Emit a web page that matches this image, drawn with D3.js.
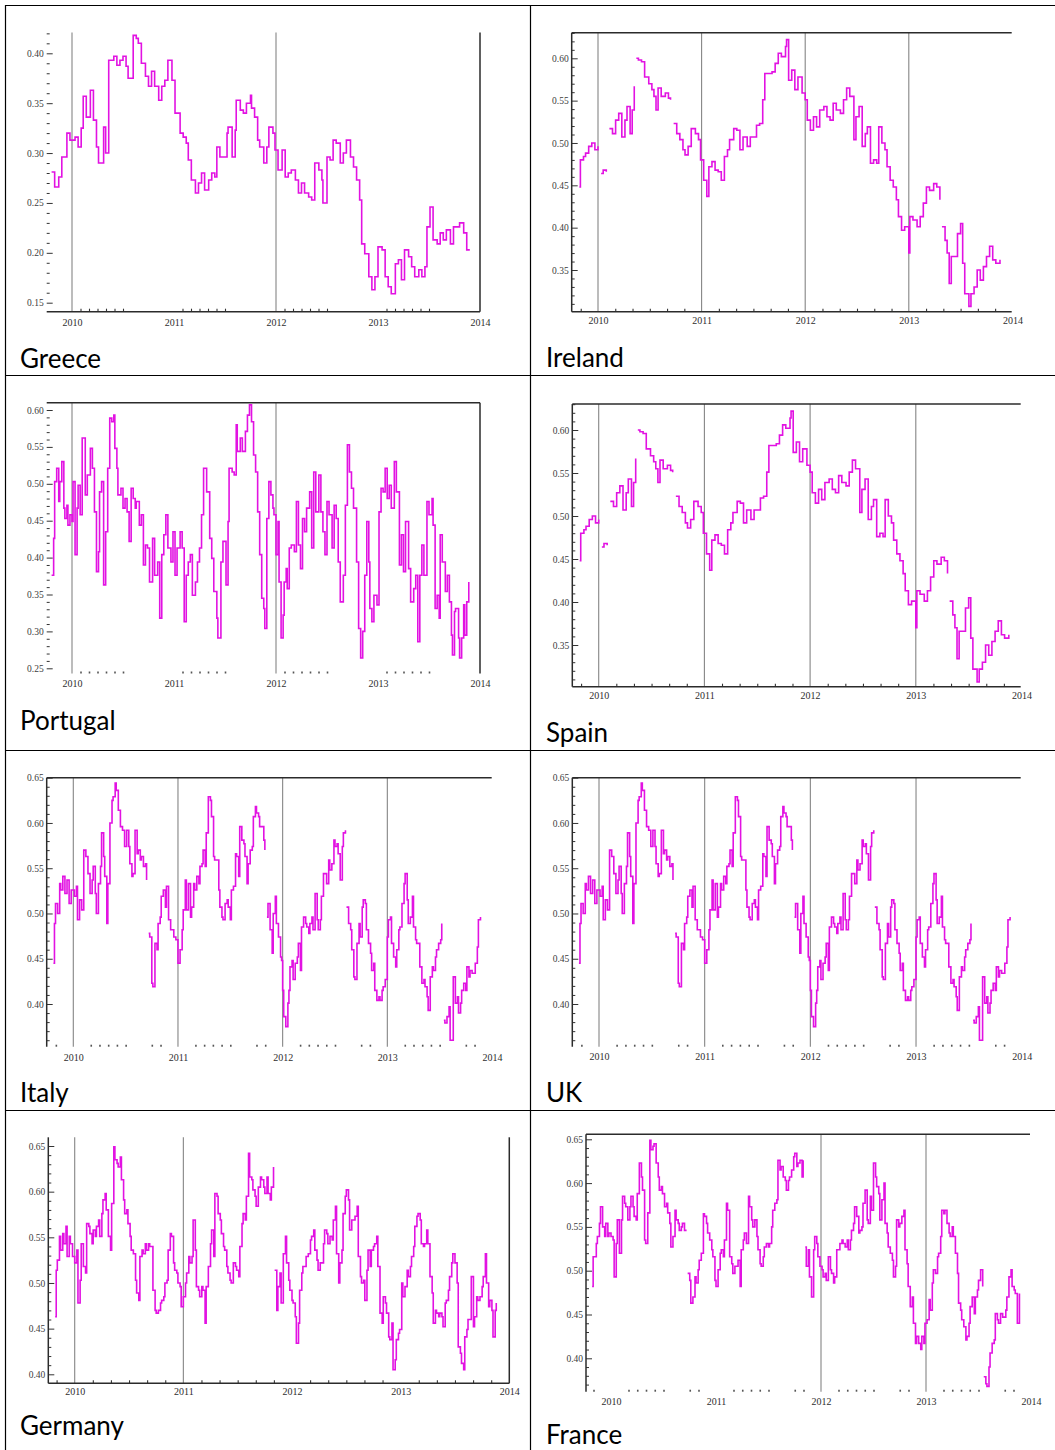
<!DOCTYPE html>
<html>
<head>
<meta charset="utf-8">
<script src="https://d3js.org/d3.v7.min.js"></script>
<style>
  body { margin: 0; background: #fff; }
  svg { display: block; }
  .yax text { font-family: "Liberation Serif", "DejaVu Serif", serif; font-size: 9.5px; fill: #3c3c3c; }
  .xax text { font-family: "Liberation Serif", "DejaVu Serif", serif; font-size: 10px; fill: #2e2e2e; }
  .name { font-family: Lato, "Open Sans", sans-serif; font-size: 26px; fill: #000; }
</style>
</head>
<body>
<svg id="page" width="1055" height="1450"></svg>
<script>
// panel titles and shared ticks
const countries = ["Greece", "Ireland", "Portugal", "Spain", "Italy", "UK", "Germany", "France"];
const yearTicks = [2010, 2011, 2012, 2013, 2014];

const greeceTicks = [0.15, 0.20, 0.25, 0.30, 0.35, 0.40];
const irelandTicks = [0.35, 0.40, 0.45, 0.50, 0.55, 0.60];
const portugalTicks = [0.25, 0.30, 0.35, 0.40, 0.45, 0.50, 0.55, 0.60];
const spainTicks = [0.35, 0.40, 0.45, 0.50, 0.55, 0.60];
const italyTicks = [0.40, 0.45, 0.50, 0.55, 0.60, 0.65];
const ukTicks = [0.40, 0.45, 0.50, 0.55, 0.60, 0.65];
const germanyTicks = [0.40, 0.45, 0.50, 0.55, 0.60, 0.65];
const franceTicks = [0.40, 0.45, 0.50, 0.55, 0.60, 0.65];

// series (decimal year, value; null = break in the line)
const greeceDates = [2009.80,2009.83,2009.87,2009.90,2009.95,2009.98,2010.03,2010.06,2010.09,2010.11,2010.14,2010.18,2010.21,2010.24,2010.26,2010.31,2010.33,2010.36,2010.41,2010.44,2010.47,2010.50,2010.53,2010.55,2010.60,2010.63,2010.65,2010.68,2010.72,2010.75,2010.78,2010.81,2010.85,2010.88,2010.91,2010.94,2010.98,2011.01,2011.06,2011.09,2011.12,2011.14,2011.17,2011.21,2011.24,2011.27,2011.30,2011.34,2011.37,2011.40,2011.42,2011.45,2011.48,2011.52,2011.53,2011.57,2011.60,2011.61,2011.65,2011.68,2011.71,2011.75,2011.76,2011.79,2011.82,2011.84,2011.88,2011.91,2011.93,2011.97,2011.99,2012.02,2012.06,2012.09,2012.12,2012.15,2012.19,2012.22,2012.25,2012.28,2012.32,2012.35,2012.38,2012.42,2012.45,2012.46,2012.50,2012.53,2012.56,2012.59,2012.63,2012.66,2012.69,2012.73,2012.76,2012.79,2012.82,2012.84,2012.87,2012.91,2012.94,2012.97,2013.00,2013.04,2013.07,2013.10,2013.13,2013.17,2013.20,2013.23,2013.26,2013.30,2013.33,2013.36,2013.40,2013.43,2013.46,2013.48,2013.51,2013.54,2013.58,2013.61,2013.64,2013.67,2013.71,2013.74,2013.77,2013.80,2013.84,2013.87,2013.90];
const greeceRates = [0.281,0.266,0.276,0.296,0.320,0.313,0.316,0.306,0.325,0.357,0.336,0.363,0.333,0.306,0.290,0.326,0.300,0.393,0.397,0.388,0.393,0.397,0.387,0.375,0.418,0.415,0.410,0.390,0.377,0.367,0.382,0.367,0.353,0.367,0.373,0.393,0.373,0.340,0.320,0.316,0.310,0.293,0.273,0.260,0.270,0.280,0.263,0.273,0.280,0.276,0.306,0.296,0.296,0.320,0.326,0.296,0.323,0.353,0.343,0.340,0.350,0.358,0.345,0.336,0.313,0.306,0.290,0.306,0.326,0.320,0.303,0.283,0.303,0.276,0.280,0.283,0.273,0.260,0.270,0.260,0.256,0.253,0.290,0.283,0.273,0.250,0.296,0.293,0.313,0.310,0.290,0.300,0.313,0.296,0.286,0.273,0.253,0.209,0.199,0.176,0.163,0.176,0.206,0.203,0.176,0.166,0.159,0.189,0.193,0.173,0.203,0.196,0.186,0.176,0.183,0.176,0.186,0.226,0.246,0.213,0.209,0.220,0.213,0.223,0.209,0.226,0.226,0.230,0.220,0.203,0.203];

const irelandDates = [2009.82,2009.83,2009.86,2009.88,2009.91,2009.94,2009.97,2010.00,2010.015,2010.03,2010.05,2010.08,2010.095,2010.11,2010.14,2010.17,2010.20,2010.23,2010.26,2010.28,2010.31,2010.33,2010.35,2010.36,2010.37,2010.39,2010.42,2010.45,2010.49,2010.52,2010.54,2010.56,2010.58,2010.61,2010.65,2010.68,2010.70,2010.715,2010.73,2010.76,2010.79,2010.82,2010.84,2010.87,2010.90,2010.94,2010.97,2010.99,2011.02,2011.05,2011.07,2011.10,2011.13,2011.16,2011.19,2011.22,2011.25,2011.27,2011.31,2011.34,2011.37,2011.40,2011.44,2011.47,2011.50,2011.53,2011.56,2011.59,2011.61,2011.64,2011.68,2011.71,2011.74,2011.77,2011.81,2011.82,2011.84,2011.87,2011.90,2011.93,2011.97,2012.00,2012.02,2012.05,2012.08,2012.11,2012.14,2012.18,2012.21,2012.24,2012.27,2012.30,2012.34,2012.37,2012.40,2012.43,2012.47,2012.49,2012.52,2012.55,2012.58,2012.60,2012.63,2012.66,2012.69,2012.71,2012.74,2012.77,2012.79,2012.82,2012.85,2012.88,2012.90,2012.93,2012.96,2013.00,2013.01,2013.04,2013.08,2013.11,2013.14,2013.17,2013.20,2013.24,2013.27,2013.30,2013.31,2013.32,2013.35,2013.37,2013.39,2013.41,2013.45,2013.47,2013.50,2013.52,2013.54,2013.58,2013.60,2013.63,2013.66,2013.69,2013.72,2013.75,2013.78,2013.81,2013.84,2013.88];
const irelandRates = [0.448,0.480,0.484,0.488,0.496,0.500,0.492,0.496,null,0.464,0.468,0.466,null,0.517,0.511,0.527,0.535,0.507,0.527,0.543,0.511,0.539,0.567,null,0.600,0.598,0.596,0.578,0.570,0.563,0.555,0.539,0.565,0.555,0.559,0.553,0.551,null,0.523,0.511,0.504,0.492,0.486,0.496,0.517,0.511,0.504,0.480,0.456,0.437,0.472,0.478,0.468,0.466,0.456,0.484,0.492,0.504,0.517,0.515,0.492,0.507,0.496,0.507,0.507,0.521,0.523,0.551,0.582,0.582,0.584,0.594,0.606,0.602,0.614,0.622,0.574,0.586,0.563,0.578,0.559,0.551,0.527,0.515,0.531,0.519,0.539,0.543,0.531,0.527,0.547,0.539,0.535,0.551,0.565,0.555,0.504,0.531,0.543,0.496,0.511,0.519,0.476,0.480,0.476,0.519,0.500,0.492,0.472,0.456,0.448,0.433,0.413,0.397,0.401,0.370,0.413,0.409,0.401,0.413,0.429,0.448,0.444,0.452,0.448,0.433,null,0.401,0.385,0.370,0.334,0.366,0.366,0.393,0.405,0.358,0.322,0.307,0.322,0.330,0.350,0.338,0.354,0.366,0.378,0.362,0.358,0.362];

const portugalDates = [2009.80,2009.82,2009.83,2009.85,2009.87,2009.88,2009.90,2009.92,2009.93,2009.95,2009.96,2009.98,2010.00,2010.01,2010.03,2010.05,2010.06,2010.08,2010.10,2010.13,2010.15,2010.18,2010.20,2010.22,2010.24,2010.26,2010.27,2010.29,2010.31,2010.33,2010.35,2010.37,2010.39,2010.41,2010.42,2010.44,2010.45,2010.48,2010.50,2010.52,2010.54,2010.56,2010.58,2010.60,2010.62,2010.63,2010.66,2010.68,2010.70,2010.72,2010.74,2010.76,2010.79,2010.81,2010.84,2010.86,2010.88,2010.90,2010.92,2010.94,2010.97,2010.99,2011.01,2011.03,2011.06,2011.08,2011.10,2011.12,2011.14,2011.16,2011.18,2011.21,2011.23,2011.25,2011.27,2011.29,2011.32,2011.35,2011.37,2011.39,2011.42,2011.43,2011.46,2011.48,2011.51,2011.53,2011.54,2011.57,2011.59,2011.61,2011.62,2011.65,2011.67,2011.70,2011.72,2011.74,2011.76,2011.78,2011.80,2011.82,2011.84,2011.86,2011.88,2011.89,2011.91,2011.93,2011.95,2011.97,2011.98,2012.00,2012.02,2012.03,2012.05,2012.07,2012.08,2012.10,2012.11,2012.13,2012.15,2012.18,2012.20,2012.22,2012.24,2012.26,2012.28,2012.30,2012.33,2012.35,2012.37,2012.39,2012.42,2012.44,2012.46,2012.48,2012.50,2012.52,2012.55,2012.57,2012.59,2012.61,2012.63,2012.66,2012.68,2012.70,2012.72,2012.74,2012.76,2012.79,2012.81,2012.83,2012.85,2012.87,2012.89,2012.91,2012.92,2012.94,2012.96,2012.99,2013.01,2013.03,2013.05,2013.07,2013.09,2013.11,2013.13,2013.16,2013.18,2013.21,2013.23,2013.25,2013.27,2013.30,2013.32,2013.35,2013.37,2013.39,2013.41,2013.43,2013.45,2013.48,2013.50,2013.53,2013.54,2013.56,2013.58,2013.60,2013.61,2013.63,2013.66,2013.68,2013.70,2013.72,2013.73,2013.75,2013.76,2013.79,2013.80,2013.82,2013.84,2013.85,2013.87,2013.89];
const portugalRates = [0.376,0.426,0.503,0.521,0.476,0.503,0.530,0.467,0.453,0.471,0.444,0.458,0.449,0.503,0.404,0.467,0.498,0.458,0.562,0.485,0.512,0.548,0.521,0.462,0.381,0.408,0.489,0.503,0.363,0.435,0.521,0.589,0.584,0.593,0.548,0.521,0.485,0.494,0.467,0.480,0.462,0.422,0.494,0.480,0.467,0.476,0.444,0.458,0.390,0.417,0.413,0.367,0.426,0.376,0.394,0.318,0.404,0.431,0.458,0.413,0.394,0.435,0.376,0.413,0.435,0.413,0.313,0.376,0.394,0.404,0.349,0.367,0.394,0.413,0.458,0.521,0.489,0.426,0.399,0.354,0.318,0.291,0.394,0.422,0.363,0.449,0.521,0.516,0.512,0.580,0.544,0.562,0.544,0.571,0.593,0.607,0.584,0.539,0.516,0.462,0.404,0.345,0.331,0.304,0.453,0.503,0.485,0.467,0.458,0.404,0.449,0.367,0.291,0.322,0.367,0.385,0.358,0.413,0.417,0.408,0.476,0.417,0.385,0.453,0.435,0.467,0.489,0.413,0.516,0.462,0.512,0.462,0.435,0.404,0.476,0.458,0.413,0.471,0.453,0.394,0.340,0.376,0.471,0.553,0.516,0.494,0.467,0.394,0.304,0.264,0.300,0.376,0.449,0.394,0.331,0.313,0.349,0.336,0.462,0.494,0.489,0.521,0.480,0.498,0.467,0.530,0.489,0.390,0.431,0.381,0.449,0.385,0.340,0.358,0.376,0.286,0.376,0.417,0.376,0.476,0.458,0.480,0.444,0.331,0.349,0.318,0.431,0.394,0.354,0.376,0.340,0.295,0.268,0.327,0.331,0.291,0.264,0.291,0.336,0.295,0.340,0.367];

// the Spain panel shows the same series as Ireland
const spainDates = [2009.82,2009.83,2009.86,2009.88,2009.91,2009.94,2009.97,2010.00,2010.015,2010.03,2010.05,2010.08,2010.095,2010.11,2010.14,2010.17,2010.20,2010.23,2010.26,2010.28,2010.31,2010.33,2010.35,2010.36,2010.37,2010.39,2010.42,2010.45,2010.49,2010.52,2010.54,2010.56,2010.58,2010.61,2010.65,2010.68,2010.70,2010.715,2010.73,2010.76,2010.79,2010.82,2010.84,2010.87,2010.90,2010.94,2010.97,2010.99,2011.02,2011.05,2011.07,2011.10,2011.13,2011.16,2011.19,2011.22,2011.25,2011.27,2011.31,2011.34,2011.37,2011.40,2011.44,2011.47,2011.50,2011.53,2011.56,2011.59,2011.61,2011.64,2011.68,2011.71,2011.74,2011.77,2011.81,2011.82,2011.84,2011.87,2011.90,2011.93,2011.97,2012.00,2012.02,2012.05,2012.08,2012.11,2012.14,2012.18,2012.21,2012.24,2012.27,2012.30,2012.34,2012.37,2012.40,2012.43,2012.47,2012.49,2012.52,2012.55,2012.58,2012.60,2012.63,2012.66,2012.69,2012.71,2012.74,2012.77,2012.79,2012.82,2012.85,2012.88,2012.90,2012.93,2012.96,2013.00,2013.01,2013.04,2013.08,2013.11,2013.14,2013.17,2013.20,2013.24,2013.27,2013.30,2013.31,2013.32,2013.35,2013.37,2013.39,2013.41,2013.45,2013.47,2013.50,2013.52,2013.54,2013.58,2013.60,2013.63,2013.66,2013.69,2013.72,2013.75,2013.78,2013.81,2013.84,2013.88];
const spainRates = [0.448,0.480,0.484,0.488,0.496,0.500,0.492,0.496,null,0.464,0.468,0.466,null,0.517,0.511,0.527,0.535,0.507,0.527,0.543,0.511,0.539,0.567,null,0.600,0.598,0.596,0.578,0.570,0.563,0.555,0.539,0.565,0.555,0.559,0.553,0.551,null,0.523,0.511,0.504,0.492,0.486,0.496,0.517,0.511,0.504,0.480,0.456,0.437,0.472,0.478,0.468,0.466,0.456,0.484,0.492,0.504,0.517,0.515,0.492,0.507,0.496,0.507,0.507,0.521,0.523,0.551,0.582,0.582,0.584,0.594,0.606,0.602,0.614,0.622,0.574,0.586,0.563,0.578,0.559,0.551,0.527,0.515,0.531,0.519,0.539,0.543,0.531,0.527,0.547,0.539,0.535,0.551,0.565,0.555,0.504,0.531,0.543,0.496,0.511,0.519,0.476,0.480,0.476,0.519,0.500,0.492,0.472,0.456,0.448,0.433,0.413,0.397,0.401,0.370,0.413,0.409,0.401,0.413,0.429,0.448,0.444,0.452,0.448,0.433,null,0.401,0.385,0.370,0.334,0.366,0.366,0.393,0.405,0.358,0.322,0.307,0.322,0.330,0.350,0.338,0.354,0.366,0.378,0.362,0.358,0.362];

const italyDates = [2009.81,2009.82,2009.83,2009.85,2009.87,2009.88,2009.90,2009.92,2009.94,2009.96,2009.98,2010.01,2010.03,2010.04,2010.06,2010.08,2010.10,2010.12,2010.14,2010.16,2010.18,2010.19,2010.21,2010.22,2010.24,2010.26,2010.27,2010.29,2010.30,2010.32,2010.33,2010.35,2010.37,2010.38,2010.40,2010.41,2010.43,2010.45,2010.47,2010.49,2010.51,2010.53,2010.54,2010.56,2010.57,2010.59,2010.61,2010.62,2010.64,2010.65,2010.67,2010.69,2010.70,2010.71,2010.72,2010.73,2010.75,2010.76,2010.78,2010.80,2010.81,2010.83,2010.84,2010.86,2010.88,2010.89,2010.91,2010.93,2010.96,2010.98,2011.00,2011.02,2011.04,2011.05,2011.07,2011.08,2011.10,2011.12,2011.13,2011.15,2011.16,2011.18,2011.20,2011.21,2011.23,2011.24,2011.26,2011.27,2011.29,2011.31,2011.32,2011.34,2011.35,2011.37,2011.39,2011.40,2011.42,2011.43,2011.45,2011.47,2011.48,2011.50,2011.51,2011.53,2011.55,2011.56,2011.58,2011.59,2011.61,2011.63,2011.64,2011.66,2011.67,2011.69,2011.71,2011.72,2011.74,2011.75,2011.77,2011.78,2011.80,2011.82,2011.83,2011.84,2011.85,2011.86,2011.88,2011.90,2011.91,2011.93,2011.94,2011.96,2011.98,2011.99,2012.00,2012.01,2012.03,2012.05,2012.06,2012.07,2012.09,2012.10,2012.12,2012.14,2012.15,2012.17,2012.18,2012.20,2012.22,2012.23,2012.25,2012.26,2012.28,2012.29,2012.31,2012.33,2012.34,2012.36,2012.37,2012.39,2012.41,2012.42,2012.44,2012.45,2012.47,2012.49,2012.50,2012.52,2012.53,2012.55,2012.57,2012.58,2012.60,2012.605,2012.61,2012.63,2012.65,2012.66,2012.68,2012.69,2012.71,2012.73,2012.74,2012.76,2012.77,2012.79,2012.80,2012.82,2012.84,2012.85,2012.87,2012.88,2012.90,2012.92,2012.93,2012.95,2012.96,2012.98,2013.00,2013.01,2013.03,2013.04,2013.06,2013.08,2013.09,2013.11,2013.12,2013.14,2013.16,2013.17,2013.19,2013.20,2013.22,2013.24,2013.25,2013.27,2013.28,2013.30,2013.31,2013.33,2013.35,2013.36,2013.38,2013.39,2013.41,2013.43,2013.44,2013.46,2013.47,2013.49,2013.51,2013.52,2013.53,2013.54,2013.55,2013.57,2013.59,2013.60,2013.62,2013.63,2013.65,2013.67,2013.68,2013.70,2013.71,2013.73,2013.75,2013.76,2013.78,2013.79,2013.81,2013.82,2013.84,2013.86,2013.87,2013.89];
const italyRates = [0.445,0.489,0.511,0.500,0.533,0.526,0.541,0.522,0.537,0.511,0.526,0.519,0.530,0.493,0.515,0.504,0.570,0.563,0.544,0.522,0.537,0.552,0.522,0.500,0.533,0.552,0.589,0.563,0.541,0.489,0.533,0.600,0.625,0.629,0.644,0.636,0.614,0.596,0.592,0.574,0.592,0.574,0.555,0.541,0.544,0.592,0.566,0.570,0.559,0.563,0.552,0.555,0.537,null,0.478,0.474,0.423,0.419,0.467,0.460,0.489,0.496,0.519,0.526,0.507,0.530,0.493,0.482,0.474,0.471,0.445,0.460,0.482,0.504,0.537,0.504,0.533,0.496,0.507,0.533,0.526,0.541,0.533,0.552,0.555,0.570,0.552,0.589,0.629,0.625,0.607,0.563,0.559,0.559,0.526,0.507,0.496,0.493,0.511,0.515,0.507,0.493,0.526,0.530,0.566,0.563,0.541,0.596,0.581,0.577,0.563,0.533,0.555,0.570,0.574,0.607,0.618,0.611,0.607,0.596,0.596,0.581,0.570,null,0.496,0.511,0.482,0.456,0.500,0.519,0.489,0.474,0.452,0.448,0.415,0.386,0.375,0.401,0.415,0.441,0.448,0.427,0.445,0.452,0.467,0.437,0.485,0.496,0.489,0.485,0.478,0.489,0.496,0.482,0.522,0.493,0.482,0.493,0.519,0.544,0.544,0.533,0.559,0.548,0.555,0.581,0.574,0.577,0.566,0.537,0.574,0.589,0.592,null,0.507,0.489,0.482,0.460,0.430,0.427,0.467,0.489,0.474,0.507,0.515,0.511,0.482,0.467,0.456,0.437,0.445,0.415,0.404,0.408,0.404,0.415,0.419,0.427,0.474,0.493,0.496,0.467,0.452,0.441,0.460,0.482,0.485,0.511,0.533,0.544,0.515,0.489,0.496,0.519,0.485,0.471,0.467,0.467,0.441,0.423,0.427,0.419,0.408,0.393,0.430,0.441,0.437,0.452,0.460,0.467,0.471,0.489,null,0.382,0.379,0.386,0.397,0.360,0.360,0.430,0.401,0.408,0.390,0.401,0.415,0.423,0.415,0.441,0.430,0.437,0.434,0.434,0.445,0.463,0.493,0.496];

// the UK panel shows the same series as Italy
const ukDates = [2009.81,2009.82,2009.83,2009.85,2009.87,2009.88,2009.90,2009.92,2009.94,2009.96,2009.98,2010.01,2010.03,2010.04,2010.06,2010.08,2010.10,2010.12,2010.14,2010.16,2010.18,2010.19,2010.21,2010.22,2010.24,2010.26,2010.27,2010.29,2010.30,2010.32,2010.33,2010.35,2010.37,2010.38,2010.40,2010.41,2010.43,2010.45,2010.47,2010.49,2010.51,2010.53,2010.54,2010.56,2010.57,2010.59,2010.61,2010.62,2010.64,2010.65,2010.67,2010.69,2010.70,2010.71,2010.72,2010.73,2010.75,2010.76,2010.78,2010.80,2010.81,2010.83,2010.84,2010.86,2010.88,2010.89,2010.91,2010.93,2010.96,2010.98,2011.00,2011.02,2011.04,2011.05,2011.07,2011.08,2011.10,2011.12,2011.13,2011.15,2011.16,2011.18,2011.20,2011.21,2011.23,2011.24,2011.26,2011.27,2011.29,2011.31,2011.32,2011.34,2011.35,2011.37,2011.39,2011.40,2011.42,2011.43,2011.45,2011.47,2011.48,2011.50,2011.51,2011.53,2011.55,2011.56,2011.58,2011.59,2011.61,2011.63,2011.64,2011.66,2011.67,2011.69,2011.71,2011.72,2011.74,2011.75,2011.77,2011.78,2011.80,2011.82,2011.83,2011.84,2011.85,2011.86,2011.88,2011.90,2011.91,2011.93,2011.94,2011.96,2011.98,2011.99,2012.00,2012.01,2012.03,2012.05,2012.06,2012.07,2012.09,2012.10,2012.12,2012.14,2012.15,2012.17,2012.18,2012.20,2012.22,2012.23,2012.25,2012.26,2012.28,2012.29,2012.31,2012.33,2012.34,2012.36,2012.37,2012.39,2012.41,2012.42,2012.44,2012.45,2012.47,2012.49,2012.50,2012.52,2012.53,2012.55,2012.57,2012.58,2012.60,2012.605,2012.61,2012.63,2012.65,2012.66,2012.68,2012.69,2012.71,2012.73,2012.74,2012.76,2012.77,2012.79,2012.80,2012.82,2012.84,2012.85,2012.87,2012.88,2012.90,2012.92,2012.93,2012.95,2012.96,2012.98,2013.00,2013.01,2013.03,2013.04,2013.06,2013.08,2013.09,2013.11,2013.12,2013.14,2013.16,2013.17,2013.19,2013.20,2013.22,2013.24,2013.25,2013.27,2013.28,2013.30,2013.31,2013.33,2013.35,2013.36,2013.38,2013.39,2013.41,2013.43,2013.44,2013.46,2013.47,2013.49,2013.51,2013.52,2013.53,2013.54,2013.55,2013.57,2013.59,2013.60,2013.62,2013.63,2013.65,2013.67,2013.68,2013.70,2013.71,2013.73,2013.75,2013.76,2013.78,2013.79,2013.81,2013.82,2013.84,2013.86,2013.87,2013.89];
const ukRates = [0.445,0.489,0.511,0.500,0.533,0.526,0.541,0.522,0.537,0.511,0.526,0.519,0.530,0.493,0.515,0.504,0.570,0.563,0.544,0.522,0.537,0.552,0.522,0.500,0.533,0.552,0.589,0.563,0.541,0.489,0.533,0.600,0.625,0.629,0.644,0.636,0.614,0.596,0.592,0.574,0.592,0.574,0.555,0.541,0.544,0.592,0.566,0.570,0.559,0.563,0.552,0.555,0.537,null,0.478,0.474,0.423,0.419,0.467,0.460,0.489,0.496,0.519,0.526,0.507,0.530,0.493,0.482,0.474,0.471,0.445,0.460,0.482,0.504,0.537,0.504,0.533,0.496,0.507,0.533,0.526,0.541,0.533,0.552,0.555,0.570,0.552,0.589,0.629,0.625,0.607,0.563,0.559,0.559,0.526,0.507,0.496,0.493,0.511,0.515,0.507,0.493,0.526,0.530,0.566,0.563,0.541,0.596,0.581,0.577,0.563,0.533,0.555,0.570,0.574,0.607,0.618,0.611,0.607,0.596,0.596,0.581,0.570,null,0.496,0.511,0.482,0.456,0.500,0.519,0.489,0.474,0.452,0.448,0.415,0.386,0.375,0.401,0.415,0.441,0.448,0.427,0.445,0.452,0.467,0.437,0.485,0.496,0.489,0.485,0.478,0.489,0.496,0.482,0.522,0.493,0.482,0.493,0.519,0.544,0.544,0.533,0.559,0.548,0.555,0.581,0.574,0.577,0.566,0.537,0.574,0.589,0.592,null,0.507,0.489,0.482,0.460,0.430,0.427,0.467,0.489,0.474,0.507,0.515,0.511,0.482,0.467,0.456,0.437,0.445,0.415,0.404,0.408,0.404,0.415,0.419,0.427,0.474,0.493,0.496,0.467,0.452,0.441,0.460,0.482,0.485,0.511,0.533,0.544,0.515,0.489,0.496,0.519,0.485,0.471,0.467,0.467,0.441,0.423,0.427,0.419,0.408,0.393,0.430,0.441,0.437,0.452,0.460,0.467,0.471,0.489,null,0.382,0.379,0.386,0.397,0.360,0.360,0.430,0.401,0.408,0.390,0.401,0.415,0.423,0.415,0.441,0.430,0.437,0.434,0.434,0.445,0.463,0.493,0.496];

const germanyDates = [2009.82,2009.83,2009.84,2009.86,2009.87,2009.89,2009.90,2009.92,2009.93,2009.95,2009.96,2009.98,2010.00,2010.02,2010.03,2010.05,2010.06,2010.08,2010.10,2010.11,2010.13,2010.14,2010.16,2010.17,2010.19,2010.20,2010.22,2010.23,2010.25,2010.26,2010.28,2010.29,2010.31,2010.33,2010.34,2010.36,2010.37,2010.39,2010.40,2010.42,2010.43,2010.45,2010.46,2010.48,2010.49,2010.51,2010.52,2010.54,2010.56,2010.57,2010.59,2010.60,2010.62,2010.63,2010.65,2010.66,2010.68,2010.69,2010.71,2010.72,2010.74,2010.75,2010.77,2010.79,2010.80,2010.82,2010.83,2010.85,2010.86,2010.88,2010.89,2010.91,2010.92,2010.94,2010.95,2010.97,2010.98,2011.00,2011.02,2011.03,2011.05,2011.06,2011.08,2011.09,2011.11,2011.12,2011.14,2011.15,2011.17,2011.18,2011.20,2011.21,2011.23,2011.25,2011.26,2011.28,2011.29,2011.31,2011.32,2011.34,2011.35,2011.37,2011.38,2011.40,2011.41,2011.43,2011.44,2011.46,2011.48,2011.49,2011.51,2011.52,2011.54,2011.55,2011.57,2011.58,2011.60,2011.61,2011.63,2011.64,2011.66,2011.67,2011.69,2011.71,2011.72,2011.74,2011.75,2011.77,2011.78,2011.80,2011.81,2011.83,2011.835,2011.84,2011.86,2011.87,2011.89,2011.90,2011.92,2011.94,2011.95,2011.97,2011.98,2012.00,2012.01,2012.03,2012.04,2012.06,2012.07,2012.09,2012.10,2012.12,2012.13,2012.15,2012.17,2012.18,2012.20,2012.21,2012.23,2012.24,2012.26,2012.27,2012.29,2012.30,2012.32,2012.33,2012.35,2012.37,2012.38,2012.40,2012.41,2012.43,2012.44,2012.46,2012.47,2012.49,2012.50,2012.52,2012.53,2012.55,2012.56,2012.58,2012.60,2012.61,2012.63,2012.64,2012.66,2012.67,2012.69,2012.70,2012.72,2012.73,2012.75,2012.76,2012.78,2012.79,2012.81,2012.83,2012.84,2012.86,2012.87,2012.89,2012.90,2012.92,2012.93,2012.95,2012.96,2012.98,2012.99,2013.01,2013.02,2013.04,2013.06,2013.07,2013.09,2013.10,2013.12,2013.13,2013.15,2013.16,2013.18,2013.19,2013.21,2013.22,2013.24,2013.25,2013.27,2013.29,2013.30,2013.32,2013.33,2013.35,2013.36,2013.38,2013.39,2013.41,2013.42,2013.44,2013.45,2013.47,2013.48,2013.50,2013.52,2013.53,2013.55,2013.56,2013.58,2013.59,2013.61,2013.62,2013.64,2013.65,2013.67,2013.68,2013.70,2013.71,2013.73,2013.75,2013.76,2013.78,2013.79,2013.81,2013.82,2013.84,2013.85,2013.87,2013.88];
const germanyRates = [0.463,0.514,0.525,0.551,0.536,0.554,0.543,0.562,0.529,0.551,0.543,0.529,0.522,0.536,0.478,0.503,0.543,0.518,0.511,0.565,0.562,0.554,0.543,0.558,0.551,0.562,0.569,0.551,0.576,0.591,0.598,0.580,0.551,0.536,0.587,0.649,0.635,0.631,0.627,0.638,0.613,0.591,0.576,0.580,0.565,0.551,0.536,0.532,0.503,0.489,0.481,0.529,0.536,0.532,0.543,0.536,0.543,0.540,0.540,0.492,0.470,0.467,0.470,0.478,0.481,0.485,0.500,0.503,0.536,0.554,0.551,0.522,0.514,0.511,0.500,0.496,0.474,0.485,0.500,0.511,0.529,0.522,0.529,0.569,0.536,0.496,0.492,0.485,0.496,0.492,0.456,0.496,0.518,0.543,0.558,0.529,0.598,0.595,0.576,0.569,0.554,0.540,0.536,0.518,0.511,0.503,0.500,0.522,0.518,0.514,0.507,0.540,0.565,0.576,0.569,0.595,0.642,0.616,0.613,0.602,0.595,0.584,0.605,0.616,0.613,0.605,0.598,0.616,0.598,0.591,0.605,0.627,null,0.514,0.470,0.496,0.511,0.478,0.532,0.551,0.522,0.503,0.492,0.481,0.478,0.463,0.434,0.456,0.492,0.511,0.518,0.518,0.529,0.532,0.547,0.551,0.558,0.536,0.525,0.514,0.522,0.522,0.543,0.558,0.554,0.543,0.551,0.547,0.569,0.584,0.532,0.500,0.522,0.536,0.576,0.595,0.602,0.591,0.558,0.569,0.569,0.573,0.584,0.529,0.507,0.500,0.503,0.481,0.514,0.536,0.518,0.536,0.540,0.543,0.551,0.518,0.467,0.456,0.485,0.478,0.467,0.441,0.438,0.456,0.405,0.416,0.438,0.445,0.449,0.500,0.485,0.496,0.514,0.507,0.518,0.529,0.540,0.562,0.573,0.576,0.569,0.543,0.540,0.543,0.558,0.543,0.507,0.489,0.456,0.470,0.467,0.463,0.467,0.463,0.452,0.478,0.481,0.492,0.507,0.522,0.532,0.522,0.500,0.430,0.423,0.412,0.405,0.441,0.449,0.460,0.460,0.507,0.452,0.463,0.485,0.481,0.485,0.496,0.507,0.532,0.500,0.474,0.481,0.470,0.441,0.470,0.478];

const franceDates = [2009.82,2009.83,2009.86,2009.87,2009.89,2009.90,2009.92,2009.94,2009.95,2009.97,2009.98,2010.00,2010.02,2010.03,2010.05,2010.06,2010.08,2010.10,2010.11,2010.13,2010.14,2010.16,2010.18,2010.19,2010.21,2010.22,2010.24,2010.25,2010.27,2010.29,2010.30,2010.32,2010.33,2010.35,2010.37,2010.38,2010.40,2010.41,2010.43,2010.45,2010.46,2010.48,2010.49,2010.51,2010.53,2010.54,2010.56,2010.57,2010.59,2010.61,2010.62,2010.64,2010.65,2010.67,2010.68,2010.70,2010.72,2010.725,2010.73,2010.75,2010.76,2010.78,2010.80,2010.81,2010.83,2010.84,2010.86,2010.88,2010.89,2010.91,2010.92,2010.94,2010.96,2010.97,2010.99,2011.00,2011.02,2011.04,2011.05,2011.07,2011.08,2011.10,2011.11,2011.13,2011.15,2011.16,2011.18,2011.19,2011.21,2011.23,2011.24,2011.26,2011.27,2011.29,2011.31,2011.32,2011.34,2011.35,2011.37,2011.39,2011.40,2011.42,2011.43,2011.45,2011.46,2011.48,2011.50,2011.51,2011.53,2011.54,2011.56,2011.58,2011.59,2011.61,2011.62,2011.64,2011.66,2011.67,2011.69,2011.70,2011.72,2011.74,2011.75,2011.77,2011.78,2011.80,2011.82,2011.83,2011.84,2011.85,2011.86,2011.88,2011.89,2011.91,2011.93,2011.94,2011.96,2011.97,2011.99,2012.01,2012.02,2012.04,2012.05,2012.07,2012.09,2012.10,2012.12,2012.13,2012.15,2012.17,2012.18,2012.20,2012.21,2012.23,2012.25,2012.26,2012.28,2012.29,2012.31,2012.32,2012.34,2012.36,2012.37,2012.39,2012.40,2012.42,2012.44,2012.45,2012.47,2012.48,2012.50,2012.52,2012.53,2012.55,2012.56,2012.58,2012.60,2012.61,2012.63,2012.64,2012.66,2012.68,2012.69,2012.71,2012.72,2012.74,2012.75,2012.77,2012.79,2012.80,2012.82,2012.83,2012.85,2012.87,2012.88,2012.90,2012.91,2012.93,2012.95,2012.96,2012.98,2012.99,2013.01,2013.03,2013.04,2013.06,2013.07,2013.09,2013.11,2013.12,2013.14,2013.15,2013.17,2013.18,2013.20,2013.22,2013.23,2013.25,2013.26,2013.28,2013.30,2013.31,2013.33,2013.34,2013.36,2013.38,2013.39,2013.41,2013.42,2013.44,2013.46,2013.47,2013.49,2013.50,2013.52,2013.54,2013.545,2013.55,2013.57,2013.58,2013.60,2013.61,2013.63,2013.65,2013.66,2013.68,2013.69,2013.71,2013.73,2013.74,2013.76,2013.77,2013.79,2013.81,2013.82,2013.84,2013.85,2013.87,2013.89];
const franceRates = [0.482,0.516,0.531,0.539,0.554,0.573,0.550,0.539,0.554,0.539,0.543,0.539,0.535,0.493,0.531,0.558,0.520,0.558,0.585,0.577,0.573,0.558,0.573,0.585,0.573,0.562,0.558,0.588,0.623,0.607,0.592,0.535,0.531,0.566,0.649,0.638,0.642,0.645,0.623,0.607,0.592,0.596,0.588,0.573,0.577,0.566,0.554,0.527,0.539,0.569,0.558,0.554,0.546,0.550,0.554,0.546,0.546,null,0.497,0.489,0.463,0.470,0.493,0.486,0.501,0.512,0.520,0.565,0.562,0.554,0.543,0.535,0.524,0.516,0.489,0.482,0.501,0.520,0.524,0.516,0.535,0.577,0.569,0.516,0.508,0.497,0.505,0.505,0.512,0.482,0.524,0.535,0.543,0.531,0.585,0.573,0.558,0.550,0.558,0.539,0.524,0.508,0.505,0.516,0.527,0.531,0.527,0.531,0.550,0.569,0.577,0.581,0.626,0.615,0.619,0.607,0.603,0.592,0.603,0.607,0.615,0.630,0.634,0.619,0.623,0.626,0.607,0.626,null,0.527,0.505,0.524,0.493,0.470,0.524,0.539,0.531,0.516,0.505,0.501,0.493,0.497,0.489,0.516,0.501,0.497,0.486,0.493,0.524,0.524,0.531,0.535,0.531,0.527,0.535,0.524,0.535,0.546,0.554,0.573,0.562,0.543,0.546,0.550,0.577,0.592,0.558,0.554,0.585,0.569,0.623,0.607,0.596,0.588,0.558,0.581,0.600,0.554,0.543,0.527,0.520,0.512,0.493,0.505,0.558,0.550,0.554,0.562,0.569,0.524,0.508,0.482,0.459,0.470,0.440,0.417,0.425,0.417,0.410,0.425,0.417,0.440,0.444,0.467,0.455,0.486,0.501,0.497,0.516,0.520,0.539,0.569,0.565,0.569,0.554,0.543,0.539,0.550,0.539,0.520,0.497,0.463,0.455,0.444,0.436,0.421,0.425,0.440,0.459,0.470,0.451,0.470,0.478,0.489,0.501,0.482,null,0.379,0.371,0.368,0.390,0.406,0.417,0.421,0.451,0.444,0.440,0.451,0.447,0.447,0.455,0.470,0.493,0.501,0.482,0.478,0.474,0.440,0.474];

// geometry of each panel in page pixels (kept apart from the data)
// xPx: pixel of 2010 and 2014; yRef: two [value, pixel] anchors; box: [left, top, right, bottom]
const layout = [
  { dates: greeceDates, rates: greeceRates, ticks: greeceTicks, xPx: [72, 480], yRef: [[0.15, 302.7], [0.40, 53.3]], box: [46.7, 32.5, 480, 311.7], edges: "rb", grid: [2010, 2012], months: [2, 3, 4, 5, 6, 7], dots: false, yearBase: 325.5, nameX: 20, nameY: 367.7 },
  { dates: irelandDates, rates: irelandRates, ticks: irelandTicks, xPx: [598, 1012.4], yRef: [[0.35, 270], [0.60, 58.3]], box: [571.7, 32.7, 1011.7, 311.7], edges: "tlb", grid: [2010, 2011, 2012, 2013], months: [3, 5, 7, 9, 11], dots: false, yearBase: 323.5, nameX: 546, nameY: 367 },
  { dates: portugalDates, rates: portugalRates, ticks: portugalTicks, xPx: [72, 480], yRef: [[0.25, 668.3], [0.60, 410]], box: [46.7, 402.7, 480, 673.5], edges: "tr", grid: [2010, 2012], months: [2, 3, 4, 5, 6, 7], dots: true, yearBase: 686.5, nameX: 20, nameY: 730 },
  { dates: spainDates, rates: spainRates, ticks: spainTicks, xPx: [598.7, 1021.5], yRef: [[0.35, 645], [0.60, 430]], box: [572.3, 404, 1020.7, 686.7], edges: "tlb", grid: [2010, 2011, 2012, 2013], months: [3, 5, 7, 9, 11], dots: false, yearBase: 699, nameX: 546, nameY: 741.5 },
  { dates: italyDates, rates: italyRates, ticks: italyTicks, xPx: [73.3, 492], yRef: [[0.40, 1004], [0.65, 777.7]], box: [46.7, 777.7, 491.7, 1046.7], edges: "tl", grid: [2010, 2011, 2012, 2013], months: [3, 4, 5, 6, 7, 10, 11], dots: true, yearBase: 1060.5, nameX: 20, nameY: 1102 },
  { dates: ukDates, rates: ukRates, ticks: ukTicks, xPx: [599, 1021.7], yRef: [[0.40, 1004], [0.65, 777.7]], box: [572.3, 777.7, 1020.7, 1046.7], edges: "tl", grid: [2010, 2011, 2012, 2013], months: [3, 4, 5, 6, 7, 10, 11], dots: true, yearBase: 1059.5, nameX: 546, nameY: 1102 },
  { dates: germanyDates, rates: germanyRates, ticks: germanyTicks, xPx: [74.7, 509.3], yRef: [[0.40, 1374.3], [0.65, 1146]], box: [48.3, 1137.3, 509.3, 1383.3], edges: "lbr", grid: [2010, 2011], months: [3, 5, 7, 9, 11], dots: false, yearBase: 1394.5, nameX: 20, nameY: 1435 },
  { dates: franceDates, rates: franceRates, ticks: franceTicks, xPx: [611, 1031], yRef: [[0.40, 1358.3], [0.65, 1139.3]], box: [586, 1134.3, 1030, 1391.7], edges: "tl", grid: [2012, 2013], months: [3, 4, 5, 6, 7, 10, 11], dots: true, yearBase: 1404.5, nameX: 546, nameY: 1444.3 }
];

const svg = d3.select("#page");
svg.append("rect").attr("width", 1055).attr("height", 1450).attr("fill", "#fff");

// table rules round the eight cells
const rules = svg.append("g").attr("stroke", "#000").attr("stroke-width", 1.2);
[[5, 5.5, 1055, 5.5], [5.5, 5, 5.5, 1450], [530.5, 5, 530.5, 1450],
 [5, 375.5, 1055, 375.5], [5, 750.5, 1055, 750.5], [5, 1110.5, 1055, 1110.5]].forEach(s => {
  rules.append("line").attr("x1", s[0]).attr("y1", s[1]).attr("x2", s[2]).attr("y2", s[3]);
});

const magenta = "#e212e2";
const defs = svg.append("defs");

layout.forEach((p, i) => {
  const [l, t, r, b] = p.box;
  const x = d3.scaleLinear().domain([2010, 2014]).range(p.xPx);
  const y = d3.scaleLinear().domain([p.yRef[0][0], p.yRef[1][0]]).range([p.yRef[0][1], p.yRef[1][1]]);
  const g = svg.append("g");

  // vertical year rules
  g.selectAll("line.grid").data(p.grid).join("line")
    .attr("class", "grid")
    .attr("x1", d => x(d)).attr("x2", d => x(d))
    .attr("y1", t).attr("y2", b)
    .attr("stroke", "#858585").attr("stroke-width", 1.1);

  // the series
  defs.append("clipPath").attr("id", "clip" + i)
    .append("rect").attr("x", l).attr("y", t - 1).attr("width", r - l).attr("height", b - t + 2);
  const n = Math.min(p.dates.length, p.rates.length);
  const pts = d3.range(n).map(k => ({ t: p.dates[k], v: p.rates[k] }));
  const line = d3.line()
    .defined(d => d.v != null)
    .x(d => x(d.t))
    .y(d => y(d.v))
    .curve(d3.curveStepAfter);
  g.append("path").datum(pts)
    .attr("clip-path", `url(#clip${i})`)
    .attr("d", line)
    .attr("fill", "none")
    .attr("stroke", magenta)
    .attr("stroke-width", 1.6);

  // y axis: ticks point into the plot
  const lo = y.invert(b), hi = y.invert(t);
  const minor = d3.range(Math.ceil(lo * 100 - 1e-6), Math.floor(hi * 100 + 1e-6) + 1)
    .map(k => k / 100)
    .filter(v => !p.ticks.some(m => Math.abs(m - v) < 1e-6));
  g.append("g").attr("class", "yax").attr("transform", `translate(${l},0)`).attr("color", "#333")
    .call(d3.axisLeft(y).tickValues(minor).tickFormat("").tickSize(-3))
    .call(a => a.select(".domain").remove());
  g.append("g").attr("class", "yax").attr("transform", `translate(${l},0)`).attr("color", "#333")
    .call(d3.axisLeft(y).tickValues(p.ticks).tickFormat(d3.format(".2f")).tickSize(-6).tickPadding(3))
    .call(a => a.select(".domain").remove());

  // month marks along the bottom
  const marks = [];
  [2009, 2010, 2011, 2012, 2013].forEach(yr => p.months.forEach(m => {
    const v = yr + (m - 1) / 12;
    if (x(v) > l + 3 && x(v) < r - 3) marks.push(v);
  }));
  g.append("g").attr("transform", `translate(0,${b})`).attr("color", p.dots ? "#555" : "#333")
    .call(d3.axisBottom(x).tickValues(marks).tickFormat("").tickSize(p.dots ? -2 : -3))
    .call(a => a.select(".domain").remove())
    .call(a => a.selectAll("line").attr("stroke-width", p.dots ? 1.6 : 1.1));

  // year labels
  g.append("g").attr("class", "xax").attr("transform", `translate(0,${p.yearBase - 7.1})`)
    .call(d3.axisBottom(x).tickValues(yearTicks).tickFormat(d3.format("d")).tickSize(0).tickPadding(0))
    .call(a => a.select(".domain").remove());

  // frame edges
  const edge = { t: [l, t, r, t], b: [l, b, r, b], l: [l, t, l, b], r: [r, t, r, b] };
  p.edges.split("").forEach(e => {
    const s = edge[e];
    g.append("line").attr("x1", s[0]).attr("y1", s[1]).attr("x2", s[2]).attr("y2", s[3])
      .attr("stroke", "#2b2b2b").attr("stroke-width", 1.5);
  });

  // country caption under the plot
  svg.append("text").attr("class", "name")
    .attr("x", p.nameX).attr("y", p.nameY)
    .text(countries[i]);
});
</script>
</body>
</html>
